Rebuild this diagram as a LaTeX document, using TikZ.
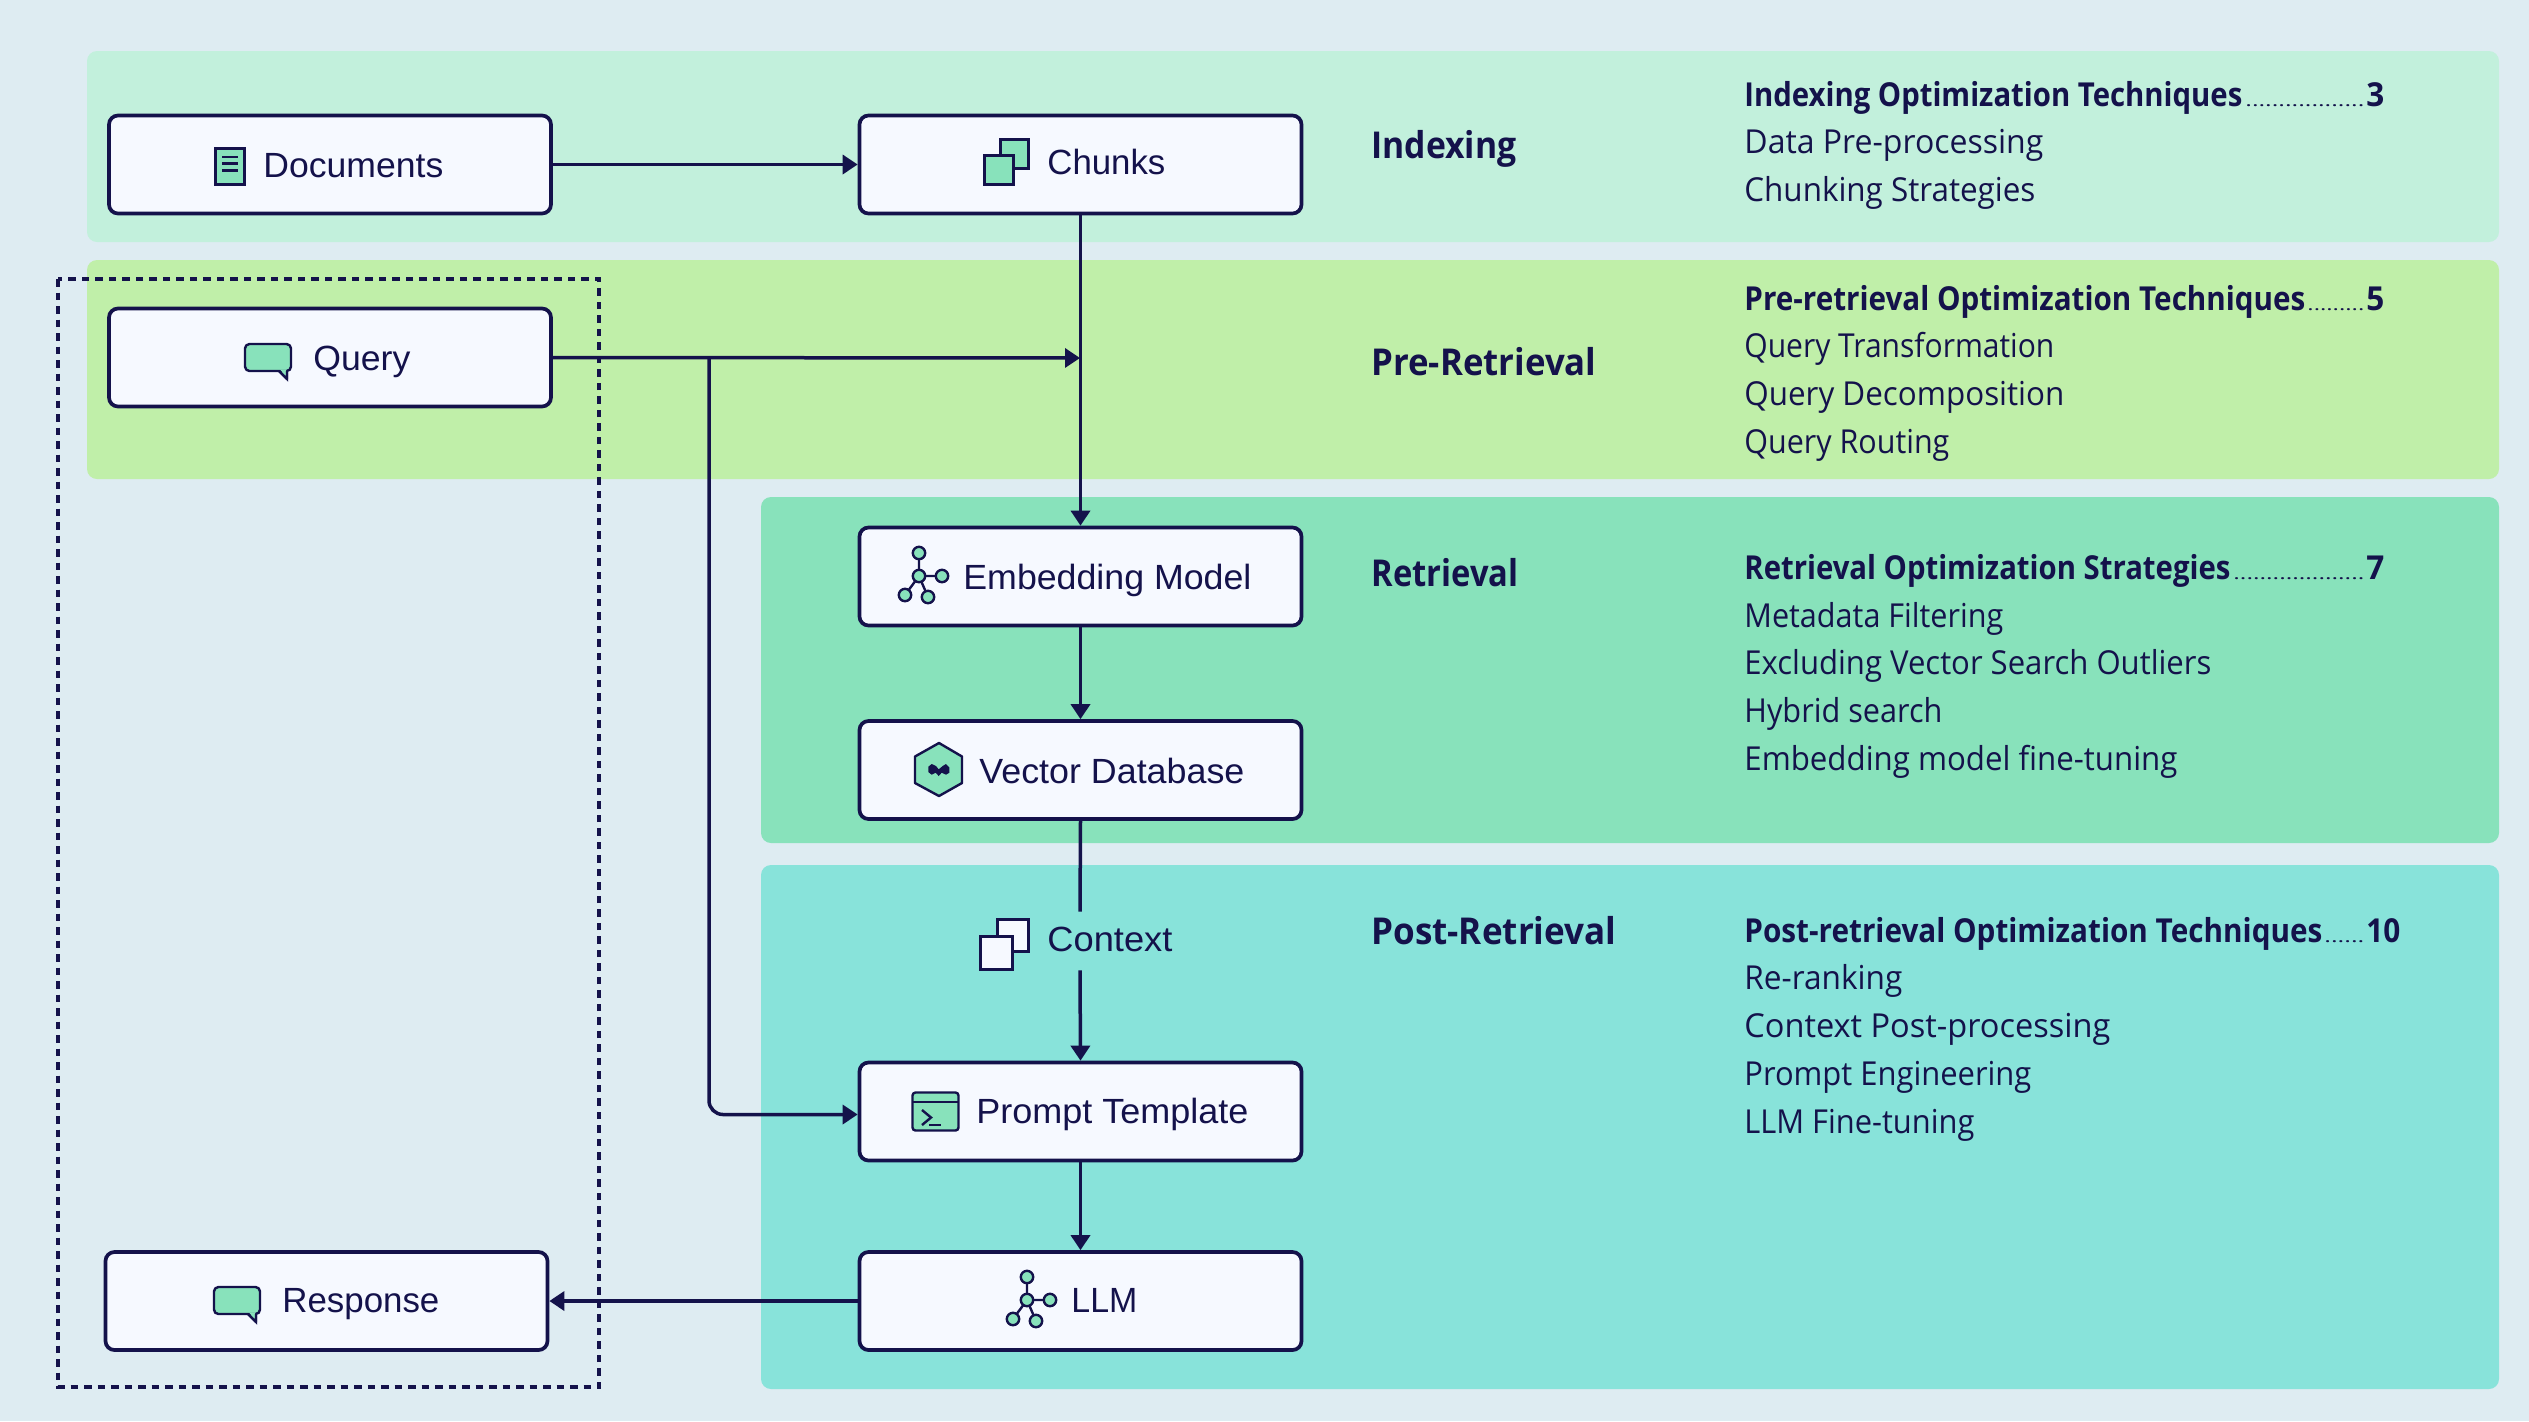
\documentclass[tikz,border=0pt]{standalone}
\usepackage{fontspec}
\usepackage{graphicx}
\usetikzlibrary{arrows.meta}
\setmainfont{Liberation Sans}
\newfontfamily\listfont{Open Sans}
\definecolor{ink}{HTML}{14124B}
\definecolor{bgc}{HTML}{DEECF2}
\definecolor{bandA}{HTML}{C2F0DC}
\definecolor{bandB}{HTML}{C0EFA9}
\definecolor{bandC}{HTML}{88E2BB}
\definecolor{bandD}{HTML}{88E3DA}
\definecolor{paper}{HTML}{F6F9FF}
\newsavebox\fitbox
\newcommand\fitw[2]{\sbox\fitbox{#2}\pgfmathsetmacro\fitratio{#1*0.5/\the\wd\fitbox}\scalebox{\fitratio}[1]{\usebox\fitbox}}
\tikzset{
  x=0.5pt,y=-0.5pt,
  band/.style={fill=#1,draw=none,rounded corners=5pt},
  boxn/.style={draw=ink,fill=paper,line width=1.85pt,rounded corners=4.5pt,minimum width=221pt,minimum height=49pt,inner sep=0pt},
  conn/.style={draw=ink,line width=1.75pt},
  arr/.style={conn,-{Triangle[length=7.5pt,width=9.5pt]}},
  lab/.style={anchor=base west,inner sep=0pt,text=ink,font=\fontsize{17.5}{20}\selectfont},
  head/.style={anchor=base west,inner sep=0pt,text=ink,font=\fontsize{18.5}{22}\selectfont\listfont\bfseries},
  ttl/.style={anchor=base west,inner sep=0pt,text=ink,font=\fontsize{16.5}{20}\selectfont\listfont\bfseries},
  itm/.style={anchor=base west,inner sep=0pt,text=ink,font=\fontsize{16.5}{20}\selectfont\listfont},
  dotsn/.style={anchor=base west,inner sep=0pt,text=ink,font=\fontsize{8}{10}\selectfont\listfont},
  ico/.style={draw=ink,fill=bandC,line width=1.2pt,line join=round},
  icoline/.style={draw=ink,line width=1.2pt},
}
\newcommand\bubble[2]{\begin{scope}[shift={(#1,#2)}]
  \draw[ico,line join=miter] (34,27) -- (42,35) -- (42,27);
  \draw[ico,rounded corners=2.2pt] (0,0) rectangle (46,27);
  \fill[bandC] (34.8,25.5) -- (41.2,32) -- (41.2,25.5) -- cycle;
  \draw[ico,fill=none] (34,27) -- (42,35) -- (42,27);
\end{scope}}
\newcommand\network[2]{\begin{scope}[shift={(#1,#2)}]
  \draw[icoline] (0,0) -- (0,-23) (0,0) -- (23,0) (0,0) -- (-14,19) (0,0) -- (9,21);
  \foreach \a/\b in {0/0,0/-23,23/0,-14/19,9/21}{\draw[ico] (\a,\b) circle[radius=3.1pt];}
\end{scope}}
\begin{document}
\begin{tikzpicture}
\useasboundingbox (0,0) rectangle (2529,1421);
\fill[bgc] (0,0) rectangle (2529,1421);
% bands
\path[band=bandA] (87,51) rectangle (2499,242);
\path[band=bandB] (87,260) rectangle (2499,479);
\path[band=bandC] (761,497) rectangle (2499,843);
\path[band=bandD] (761,865) rectangle (2499,1389);
% dashed frame
\draw[ink,line width=1.75pt,dash pattern=on 3.75pt off 3pt] (58,279) rectangle (599,1387);
% boxes
\node[boxn] (docs) at (330,164.5) {};
\node[boxn] (chunks) at (1080.5,164.5) {};
\node[boxn] (query) at (330,357.5) {};
\node[boxn] (embed) at (1080.5,576.5) {};
\node[boxn] (vecdb) at (1080.5,770) {};
\node[boxn] (prompt) at (1080.5,1111.5) {};
\node[boxn] (llm) at (1080.5,1301) {};
\node[boxn] (resp) at (326.5,1301) {};
\node[inner sep=0pt,minimum width=5pt,minimum height=29pt] (ctx) at (1080,941) {};
\coordinate (qmerge) at (1080,358);
\coordinate (qsplit) at (709,358);
% connectors
\draw[arr] (docs.east) -- (chunks.west);
\draw[arr] (chunks.south) -- (embed.north);
\draw[arr] (query.east) -- (qmerge);
\draw[arr,rounded corners=7pt] (qsplit) |- ([yshift=-1.5pt]prompt.west);
\draw[arr] (embed.south) -- (vecdb.north);
\draw[conn] (vecdb.south) -- (ctx.north);
\draw[arr] (ctx.south) -- (prompt.north);
\draw[arr] (prompt.south) -- (llm.north);
\draw[arr] (llm.west) -- (resp.east);
% box labels
\node[lab] (tdocs) at (263,177) {\fitw{180}{Documents}};
\node[lab] (tchunks) at (1047,174) {\fitw{118}{Chunks}};
\node[lab] (tquery) at (313,370) {\fitw{97}{Query}};
\node[lab] (tembed) at (963,589) {\fitw{288}{Embedding Model}};
\node[lab] (tvec) at (979,783) {\fitw{265}{Vector Database}};
\node[lab] (tctx) at (1047,951) {\fitw{125}{Context}};
\node[lab] (tprompt) at (976,1123) {\fitw{272}{Prompt Template}};
\node[lab] (tllm) at (1071,1312) {\fitw{66}{LLM}};
\node[lab] (tresp) at (282,1312) {\fitw{157}{Response}};
% section headings
\node[head] (h1) at (1371,158) {\fitw{145}{Indexing}};
\node[head] (h2) at (1371,375) {\fitw{225}{Pre-Retrieval}};
\node[head] (h3) at (1371,586) {\fitw{147}{Retrieval}};
\node[head] (h4) at (1371,944) {\fitw{245}{Post-Retrieval}};
% lists: indexing
\node[ttl] (a0) at (1744,106) {\fitw{498}{Indexing Optimization Techniques}};
\node[dotsn] (a0d) at (2245,106) {\fitw{119}{..................}};
\node[ttl] (a0n) at (2366,106) {\fitw{18}{3}};
\node[itm] (a1) at (1744,153) {\fitw{299}{Data Pre-processing}};
\node[itm] (a2) at (1744,201) {\fitw{291}{Chunking Strategies}};
% lists: pre-retrieval
\node[ttl] (b0) at (1744,310) {\fitw{561}{Pre-retrieval Optimization Techniques}};
\node[dotsn] (b0d) at (2307,310) {\fitw{57}{.........}};
\node[ttl] (b0n) at (2366,310) {\fitw{18}{5}};
\node[itm] (b1) at (1744,357) {\fitw{310}{Query Transformation}};
\node[itm] (b2) at (1744,405) {\fitw{320}{Query Decomposition}};
\node[itm] (b3) at (1744,453) {\fitw{205}{Query Routing}};
% lists: retrieval
\node[ttl] (c0) at (1744,579) {\fitw{486}{Retrieval Optimization Strategies}};
\node[dotsn] (c0d) at (2233,579) {\fitw{131}{....................}};
\node[ttl] (c0n) at (2366,579) {\fitw{18}{7}};
\node[itm] (c1) at (1744,627) {\fitw{259}{Metadata Filtering}};
\node[itm] (c2) at (1744,674) {\fitw{467}{Excluding Vector Search Outliers}};
\node[itm] (c3) at (1744,722) {\fitw{198}{Hybrid search}};
\node[itm] (c4) at (1744,770) {\fitw{433}{Embedding model fine-tuning}};
% lists: post-retrieval
\node[ttl] (d0) at (1744,942) {\fitw{578}{Post-retrieval Optimization Techniques}};
\node[dotsn] (d0d) at (2324,942) {\fitw{40}{......}};
\node[ttl] (d0n) at (2366,942) {\fitw{34}{10}};
\node[itm] (d1) at (1744,989) {\fitw{158}{Re-ranking}};
\node[itm] (d2) at (1744,1037) {\fitw{366}{Context Post-processing}};
\node[itm] (d3) at (1744,1085) {\fitw{287}{Prompt Engineering}};
\node[itm] (d4) at (1744,1133) {\fitw{230}{LLM Fine-tuning}};
% icons
\draw[draw=ink,fill=bandC,line width=1.5pt] (215.5,148.5) rectangle (244.5,184.5);
\draw[icoline] (222,157) -- (238,157) (222,163.5) -- (238,163.5) (222,170.5) -- (238,170.5);
\draw[draw=ink,fill=bandC,line width=1.5pt] (1000,139) rectangle (1028,168);
\draw[draw=ink,fill=bandC,line width=1.5pt] (984,155) rectangle (1013,184);
\bubble{245}{344}
\bubble{214}{1287}
\network{919}{576}
\network{1027}{1300}
\draw[ico] (939,743) -- (962,756.5) -- (962,783) -- (939,796) -- (915,783) -- (915,756.5) -- cycle;
\fill[ink] (928.3,766.7) -- (931.7,764) -- (936,766) -- (938.7,769.3) -- (942.7,766) -- (946,764) -- (949.3,767.3) -- (949.3,772.7) -- (946,774.7) -- (941.7,772.7) -- (938.7,776) -- (935.7,772.7) -- (931.7,774.7) -- (928.3,772) -- cycle;
\draw[draw=ink,fill=paper,line width=1.5pt] (997.5,919.5) rectangle (1028.5,951.5);
\draw[draw=ink,fill=paper,line width=1.5pt] (980.5,936) rectangle (1012,969);
\draw[ico,rounded corners=1.5pt] (912.5,1092.5) rectangle (958.5,1130.5);
\draw[icoline] (912.5,1102) -- (958.5,1102);
\draw[icoline] (922,1110) -- (931,1117.5) -- (922,1125);
\draw[icoline] (929,1125) -- (941,1125);
\end{tikzpicture}
\end{document}
